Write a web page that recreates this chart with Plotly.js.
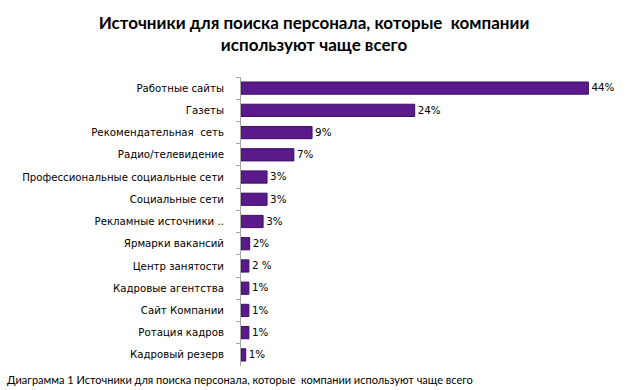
<!DOCTYPE html>
<html>
<head>
<meta charset="utf-8">
<script src="https://cdn.plot.ly/plotly-3.0.1.min.js"></script>
<style>html,body{margin:0;padding:0;background:#fff;}</style>
</head>
<body>
<div id="chart" style="width:628px;height:390px;"></div>
<script>
const categories = [
  "Работные сайты",
  "Газеты",
  "Рекомендательная  сеть",
  "Радио/телевидение",
  "Профессиональные социальные сети",
  "Социальные сети",
  "Рекламные источники ..",
  "Ярмарки вакансий",
  "Центр занятости",
  "Кадровые агентства",
  "Сайт Компании",
  "Ротация кадров",
  "Кадровый резерв"
];
// bar lengths as drawn
const values = [44, 22, 9, 6.7, 3.3, 3.3, 2.8, 1.1, 1.0, 1.0, 1.0, 1.0, 0.6];
// data labels as printed
const labels = ["44%", "24%", "9%", "7%", "3%", "3%", "3%", "2%", "2 %", "1%", "1%", "1%", "1%"];

const titleText = "Источники для поиска персонала, которые  компании<br>используют чаще всего";
const captionText = "Диаграмма 1 Источники для поиска персонала, которые  компании используют чаще всего";

const trace = {
  type: "bar",
  orientation: "h",
  y: categories,
  x: values,
  text: labels,
  textposition: "outside",
  cliponaxis: false,
  textfont: {family: "DejaVu Sans", size: 11, color: "#000"},
  marker: {color: "#5b1a8c", line: {color: "#3d0f63", width: 1}},
  hoverinfo: "skip"
};

const layout = {
  width: 628, height: 390,
  margin: {l: 241, r: 8, t: 77, b: 24},
  paper_bgcolor: "#fff", plot_bgcolor: "#fff",
  showlegend: false,
  bargap: 0.45,
  title: {
    text: titleText,
    x: 0.5, xref: "container", xanchor: "center",
    y: 1 - 29/390, yref: "container", yanchor: "middle",
    font: {family: "Lato", size: 17, color: "#000", weight: 700}
  },
  xaxis: {
    range: [0, 48], visible: false, showgrid: false, zeroline: false, fixedrange: true
  },
  yaxis: {
    type: "category",
    autorange: "reversed",
    showline: true, linecolor: "#a6a6a6", linewidth: 1,
    ticks: "outside", tickson: "boundaries", ticklen: 4, tickcolor: "#a6a6a6",
    tickfont: {family: "DejaVu Sans", size: 10.2, color: "#000"},
    ticklabelstandoff: 14,
    showgrid: false, zeroline: false
  },
  annotations: [{
    text: captionText,
    xref: "paper", yref: "paper",
    x: -236/379, y: 0, yshift: -22,
    xanchor: "left", yanchor: "bottom",
    showarrow: false,
    font: {family: "Lato", size: 11, color: "#000"}
  }]
};

Plotly.newPlot("chart", [trace], layout, {staticPlot: true, displayModeBar: false});
</script>
</body>
</html>
